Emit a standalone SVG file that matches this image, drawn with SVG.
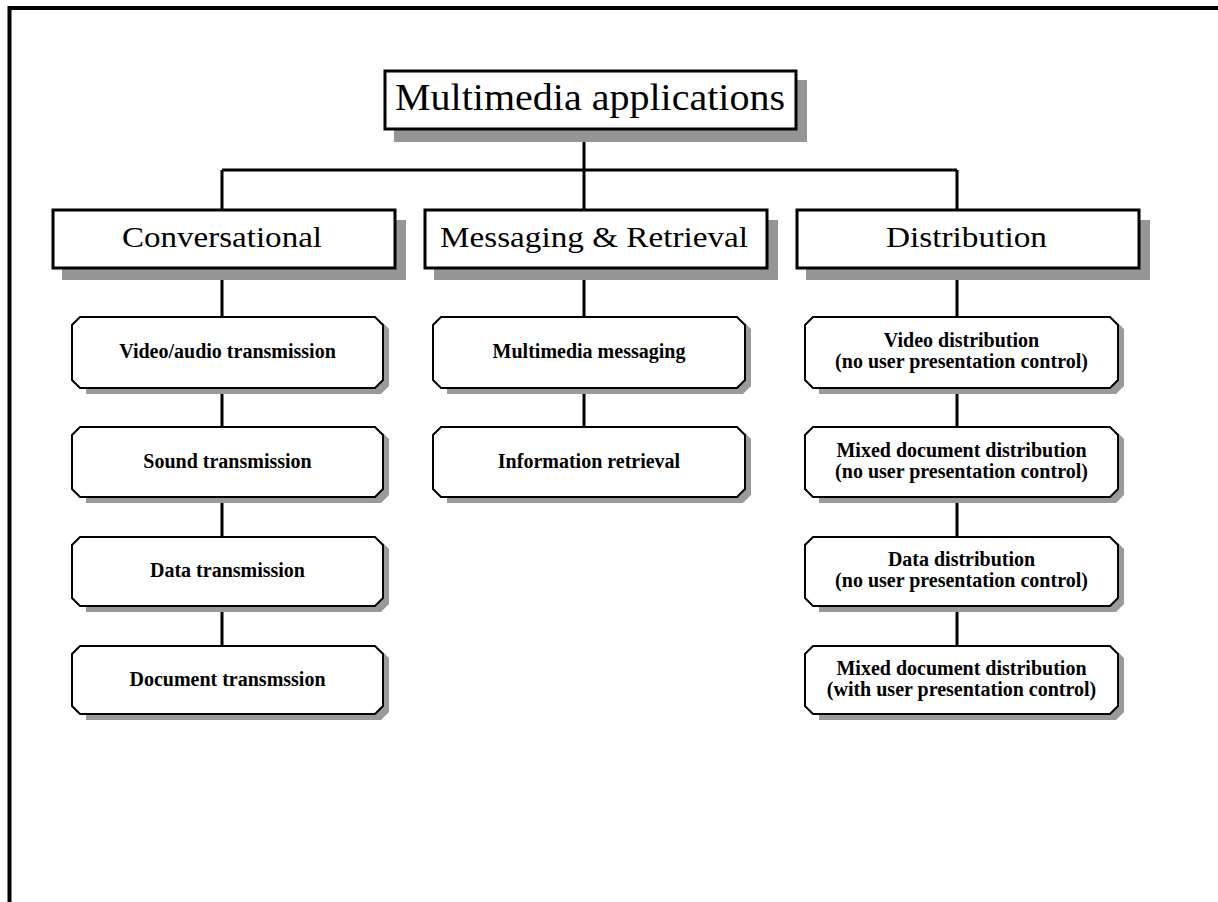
<svg xmlns="http://www.w3.org/2000/svg" width="1218" height="902" viewBox="0 0 1218 902">
<defs>
<style>
.frame{fill:none;stroke:#000;stroke-width:4}
.conn{fill:none;stroke:#000;stroke-width:3}
.box{fill:#fff;stroke:#000;stroke-width:3}
.shadow{fill:#959595}
.oct{fill:#fff;stroke:#000;stroke-width:2}
.oshadow{fill:#9a9a9a}
.t1{font-family:"Liberation Serif","Times New Roman",serif;font-size:37px;text-anchor:middle;fill:#000}
.t2{font-family:"Liberation Serif","Times New Roman",serif;font-size:30px;text-anchor:middle;fill:#000}
.t3{font-family:"Liberation Serif","Times New Roman",serif;font-size:20px;font-weight:bold;text-anchor:middle;fill:#000}
</style>
</defs>
<rect width="1218" height="902" fill="#fff"/>
<path class="frame" d="M9.5,902 V8 H1218"/>
<g id="connectors">
<path class="conn" d="M584,130 V170 M222,170 H957 M222,170 V210 M584,170 V210 M957,170 V210"/>
<path class="conn" d="M222,268 V317 M222,388 V427 M222,497 V537 M222,606 V646"/>
<path class="conn" d="M584,268 V317 M584,388 V427"/>
<path class="conn" d="M957,268 V317 M957,388 V427 M957,497 V537 M957,606 V646"/>
</g>
<g id="root">
<rect class="shadow" x="394" y="80" width="413" height="62"/>
<rect class="box" x="385" y="71" width="411" height="58"/>
<text class="t1" x="590" y="110" textLength="390" lengthAdjust="spacingAndGlyphs">Multimedia applications</text>
</g>
<g id="conversational">
<rect class="shadow" x="62" y="220" width="344" height="60"/>
<rect class="box" x="53" y="210" width="342" height="58"/>
<text class="t2" x="222" y="247" textLength="200" lengthAdjust="spacingAndGlyphs">Conversational</text>
</g>
<g id="messaging">
<rect class="shadow" x="434" y="220" width="344" height="60"/>
<rect class="box" x="425" y="210" width="342" height="58"/>
<text class="t2" x="594" y="247" textLength="308" lengthAdjust="spacingAndGlyphs">Messaging &amp; Retrieval</text>
</g>
<g id="distribution">
<rect class="shadow" x="806" y="220" width="344" height="60"/>
<rect class="box" x="797" y="210" width="342" height="58"/>
<text class="t2" x="966.5" y="247" textLength="161" lengthAdjust="spacingAndGlyphs">Distribution</text>
</g>
<g id="video-audio">
<polygon class="oshadow" points="86,323 383,323 389,329 389,386 381,394 86,394"/>
<polygon class="oct" points="80,317 375,317 383,325 383,380 375,388 80,388 72,380 72,325"/>
<text class="t3" x="227.5" y="358">Video/audio transmission</text>
</g>
<g id="sound">
<polygon class="oshadow" points="86,433 383,433 389,439 389,495 381,503 86,503"/>
<polygon class="oct" points="80,427 375,427 383,435 383,489 375,497 80,497 72,489 72,435"/>
<text class="t3" x="227.5" y="468">Sound transmission</text>
</g>
<g id="data">
<polygon class="oshadow" points="86,543 383,543 389,549 389,604 381,612 86,612"/>
<polygon class="oct" points="80,537 375,537 383,545 383,598 375,606 80,606 72,598 72,545"/>
<text class="t3" x="227.5" y="577">Data transmission</text>
</g>
<g id="document">
<polygon class="oshadow" points="86,652 383,652 389,658 389,712 381,720 86,720"/>
<polygon class="oct" points="80,646 375,646 383,654 383,706 375,714 80,714 72,706 72,654"/>
<text class="t3" x="227.5" y="686">Document transmssion</text>
</g>
<g id="mm-messaging">
<polygon class="oshadow" points="447,323 745,323 751,329 751,386 743,394 447,394"/>
<polygon class="oct" points="441,317 737,317 745,325 745,380 737,388 441,388 433,380 433,325"/>
<text class="t3" x="589" y="358">Multimedia messaging</text>
</g>
<g id="info-retrieval">
<polygon class="oshadow" points="447,433 745,433 751,439 751,495 743,503 447,503"/>
<polygon class="oct" points="441,427 737,427 745,435 745,489 737,497 441,497 433,489 433,435"/>
<text class="t3" x="589" y="468">Information retrieval</text>
</g>
<g id="video-dist">
<polygon class="oshadow" points="819,323 1118,323 1124,329 1124,386 1116,394 819,394"/>
<polygon class="oct" points="813,317 1110,317 1118,325 1118,380 1110,388 813,388 805,380 805,325"/>
<text class="t3" x="961.5" y="347">Video distribution</text>
<text class="t3" x="961.5" y="368">(no user presentation control)</text>
</g>
<g id="mixed-doc-dist">
<polygon class="oshadow" points="819,433 1118,433 1124,439 1124,495 1116,503 819,503"/>
<polygon class="oct" points="813,427 1110,427 1118,435 1118,489 1110,497 813,497 805,489 805,435"/>
<text class="t3" x="961.5" y="457">Mixed document distribution</text>
<text class="t3" x="961.5" y="478">(no user presentation control)</text>
</g>
<g id="data-dist">
<polygon class="oshadow" points="819,543 1118,543 1124,549 1124,604 1116,612 819,612"/>
<polygon class="oct" points="813,537 1110,537 1118,545 1118,598 1110,606 813,606 805,598 805,545"/>
<text class="t3" x="961.5" y="566">Data distribution</text>
<text class="t3" x="961.5" y="587">(no user presentation control)</text>
</g>
<g id="mixed-doc-dist-ctrl">
<polygon class="oshadow" points="819,652 1118,652 1124,658 1124,712 1116,720 819,720"/>
<polygon class="oct" points="813,646 1110,646 1118,654 1118,706 1110,714 813,714 805,706 805,654"/>
<text class="t3" x="961.5" y="675">Mixed document distribution</text>
<text class="t3" x="961.5" y="696">(with user presentation control)</text>
</g>
</svg>
